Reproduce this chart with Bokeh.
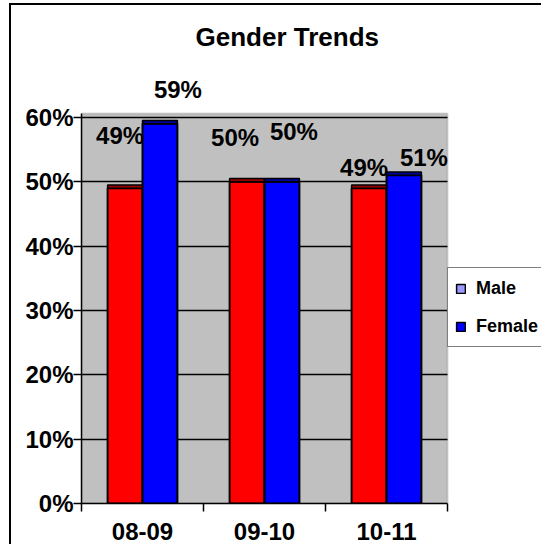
from bokeh.plotting import figure
from bokeh.models import (Range1d, FixedTicker, NumeralTickFormatter, ColumnDataSource,
                          Legend, LegendItem, Title, BoxAnnotation)
from bokeh.core.properties import value
from bokeh.transform import dodge
from bokeh.embed import file_html
from bokeh.resources import INLINE

# ---- data ----
categories = ["08-09", "09-10", "10-11"]
male = [0.49, 0.50, 0.49]
female = [0.59, 0.50, 0.51]
y_ticks = [0.0, 0.1, 0.2, 0.3, 0.4, 0.5, 0.6]
series_names = ["Male", "Female"]

# ---- styling (label nudges in screen px) ----
male_dx = [-5, -12, -5]
male_dy = [-53, -44, -21]
female_dx = [18, 12, 20]
female_dy = [-34, -50, -18]
FONT = "Liberation Sans"
BAR_W = 0.286
LIP = 0.005
W, H = 541, 544
LEFT, TOP, BOTTOM = 81, 70, 41
AREA_W, AREA_H = 366, 390     # pixel size of the grey category area
AREA_TOP = 0.606              # value at the top edge of the grey area
n = len(categories)
x_end = n * (W - LEFT) / AREA_W                 # frame runs on under the legend
y_end = AREA_TOP * (H - BOTTOM - TOP) / AREA_H  # room above for the data labels

xpos = [i + 0.5 for i in range(n)]
src = ColumnDataSource(dict(
    x=xpos, male=male, female=female,
    male_lip=[v + LIP for v in male], female_lip=[v + LIP for v in female],
    male_txt=[f"{round(v*100)}%" for v in male],
    female_txt=[f"{round(v*100)}%" for v in female],
    mdx=male_dx, mdy=male_dy, fdx=female_dx, fdy=female_dy,
))

p = figure(width=W, height=H, output_backend="svg", toolbar_location=None,
           x_range=Range1d(0, x_end), y_range=Range1d(0, y_end),
           min_border_left=LEFT, min_border_right=0, min_border_top=TOP,
           min_border_bottom=BOTTOM, background_fill_color=None,
           border_fill_color=None, outline_line_color=None)
# outer chart-area frame (left and top edges), drawn behind the transparent canvas
p.styles = {"background": "linear-gradient(#000,#000) 9px 3px / 2px 100% no-repeat, "
                          "linear-gradient(#000,#000) 9px 3px / 100% 2px no-repeat, #fff"}

# grey plot area over the categories
p.add_layout(BoxAnnotation(left=0, right=n, bottom=0, top=AREA_TOP,
                           fill_color="#c0c0c0", fill_alpha=1,
                           line_color="#808080", line_width=2, level="image"))

# spacer keeps the title high above the plot area
p.add_layout(Title(text=" ", text_font_size="1px", standoff=11), "above")
p.title.text = "Gender Trends"
p.title.text_font = FONT
p.title.text_font_size = "26px"
p.title.text_font_style = "bold"
p.title.text_color = "black"
p.title.align = "left"
p.title.offset = 114

# axes
p.xaxis.ticker = FixedTicker(ticks=xpos, minor_ticks=list(range(n + 1)))
p.xaxis.major_label_overrides = {x: c for x, c in zip(xpos, categories)}
p.xaxis.bounds = (0, n)
p.xaxis.major_tick_line_color = None
p.xaxis.major_tick_out = 0
p.xaxis.major_tick_in = 0
p.xaxis.minor_tick_out = 8
p.xaxis.minor_tick_in = 0
p.xaxis.minor_tick_line_color = "black"
p.xaxis.minor_tick_line_width = 1.5
p.xaxis.major_label_standoff = 11

p.yaxis.ticker = FixedTicker(ticks=y_ticks)
p.yaxis.formatter = NumeralTickFormatter(format="0%")
p.yaxis.bounds = (0, AREA_TOP)
p.yaxis.major_tick_out = 8
p.yaxis.major_tick_in = 0
p.yaxis.minor_tick_line_color = None
p.yaxis.major_label_standoff = 0

for ax in (p.xaxis, p.yaxis):
    ax.axis_line_color = "black"
    ax.axis_line_width = 1.5
    ax.major_tick_line_width = 1.5
    ax.major_label_text_font = FONT
    ax.major_label_text_font_size = "24px"
    ax.major_label_text_font_style = "bold"
    ax.major_label_text_color = "black"

p.xgrid.visible = False
yg = p.ygrid[0]
yg.ticker = FixedTicker(ticks=y_ticks)
if "cross_bounds" in yg.properties():
    yg.cross_bounds = (0, n)
    yg.grid_line_color = "black"
    yg.grid_line_width = 1.5
else:
    yg.visible = False
    p.segment(x0=[0] * (len(y_ticks) - 1), x1=[n] * (len(y_ticks) - 1),
              y0=y_ticks[1:], y1=y_ticks[1:], line_color="black", line_width=1.5)

# bars
off = BAR_W / 2
p.vbar(x=dodge("x", -off), top="male", width=BAR_W, source=src,
       fill_color="#ff0000", line_color="black", line_width=2)
p.vbar(x=dodge("x", off), top="female", width=BAR_W, source=src,
       fill_color="#0000ff", line_color="black", line_width=2)
p.vbar(x=dodge("x", -off), bottom="male", top="male_lip", width=BAR_W, source=src,
       fill_color="#990000", line_color="black", line_width=1.5)
p.vbar(x=dodge("x", off), bottom="female", top="female_lip", width=BAR_W, source=src,
       fill_color="#000099", line_color="black", line_width=1.5)

# data labels
for col, sgn in (("male_txt", -1), ("female_txt", 1)):
    dx, dy = ("mdx", "mdy") if sgn < 0 else ("fdx", "fdy")
    p.text(x=dodge("x", sgn * off), y=col.replace("_txt", ""), text=col, source=src,
           x_offset=dx, y_offset=dy, text_align="center", text_baseline="middle",
           text_font=value(FONT), text_font_size="24px",
           text_font_style="bold", text_color="black")

# legend swatches (colours as in the original legend; hidden from the plot area)
r_m = p.vbar(x="x", top="male", width=BAR_W, source=src, fill_color="#9999ff",
             line_color="black", line_width=1.5, visible=False)
r_f = p.vbar(x="x", top="female", width=BAR_W, source=src, fill_color="#0000ff",
             line_color="black", line_width=1.5, visible=False)
legend = Legend(items=[LegendItem(label=series_names[0], renderers=[r_m]),
                       LegendItem(label=series_names[1], renderers=[r_f])],
                location=(AREA_W, 156), orientation="vertical", click_policy="none",
                glyph_width=11, glyph_height=11, label_standoff=10,
                label_width=110, label_height=26, spacing=12, padding=7, margin=0,
                label_text_font=FONT, label_text_font_size="18px",
                label_text_font_style="bold", label_text_color="black",
                border_line_color="black", border_line_width=1.5,
                background_fill_color="white", background_fill_alpha=1,
                inactive_fill_alpha=0)
p.add_layout(legend, "center")

open("out.html", "w").write(file_html(p, INLINE))
